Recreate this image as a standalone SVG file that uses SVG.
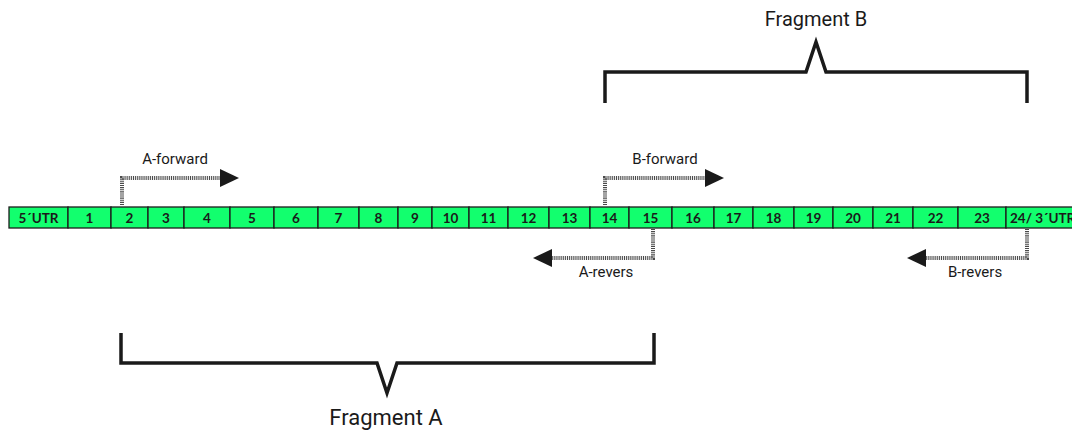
<svg xmlns="http://www.w3.org/2000/svg" width="1072" height="433" viewBox="0 0 1072 433">
  <defs>
    <style>
      .cell { fill: #12ff6e; stroke: #1c1c1c; stroke-width: 1.3; }
      .cell-label { font-family: Lato, "Open Sans", sans-serif; font-weight: bold; font-size: 13.5px; fill: #1a1a1a; text-anchor: middle; }
      .primer { fill: none; stroke: #4a4a4a; stroke-width: 4; stroke-dasharray: 1 0.9; }
      .primer-label { font-family: Roboto, "Noto Sans", sans-serif; font-size: 15px; fill: #1a1a1a; text-anchor: middle; }
      .bracket { fill: none; stroke: #1a1a1a; stroke-width: 3.5; stroke-linejoin: miter; }
      .fragment-label { font-family: Roboto, "Noto Sans", sans-serif; fill: #1a1a1a; text-anchor: middle; }
      .head { fill: #1a1a1a; }
    </style>
  </defs>

  <rect width="1072" height="433" fill="#ffffff"/>

  <!-- exon strip -->
  <g id="exons">
    <g id="exon-5utr"><rect class="cell" x="9" y="207" width="59" height="21"/><text class="cell-label" x="38.5" y="222.5">5´UTR</text></g>
    <g id="exon-1"><rect class="cell" x="68" y="207" width="43" height="21"/><text class="cell-label" x="89.5" y="222.5">1</text></g>
    <g id="exon-2"><rect class="cell" x="111" y="207" width="37" height="21"/><text class="cell-label" x="129.5" y="222.5">2</text></g>
    <g id="exon-3"><rect class="cell" x="148" y="207" width="36" height="21"/><text class="cell-label" x="166" y="222.5">3</text></g>
    <g id="exon-4"><rect class="cell" x="184" y="207" width="46" height="21"/><text class="cell-label" x="207" y="222.5">4</text></g>
    <g id="exon-5"><rect class="cell" x="230" y="207" width="44" height="21"/><text class="cell-label" x="252" y="222.5">5</text></g>
    <g id="exon-6"><rect class="cell" x="274" y="207" width="44" height="21"/><text class="cell-label" x="296" y="222.5">6</text></g>
    <g id="exon-7"><rect class="cell" x="318" y="207" width="41" height="21"/><text class="cell-label" x="338.5" y="222.5">7</text></g>
    <g id="exon-8"><rect class="cell" x="359" y="207" width="39" height="21"/><text class="cell-label" x="378.5" y="222.5">8</text></g>
    <g id="exon-9"><rect class="cell" x="398" y="207" width="34" height="21"/><text class="cell-label" x="415" y="222.5">9</text></g>
    <g id="exon-10"><rect class="cell" x="432" y="207" width="37" height="21"/><text class="cell-label" x="450.5" y="222.5">10</text></g>
    <g id="exon-11"><rect class="cell" x="469" y="207" width="39" height="21"/><text class="cell-label" x="488.5" y="222.5">11</text></g>
    <g id="exon-12"><rect class="cell" x="508" y="207" width="41" height="21"/><text class="cell-label" x="528.5" y="222.5">12</text></g>
    <g id="exon-13"><rect class="cell" x="549" y="207" width="41" height="21"/><text class="cell-label" x="569.5" y="222.5">13</text></g>
    <g id="exon-14"><rect class="cell" x="590" y="207" width="39" height="21"/><text class="cell-label" x="609.5" y="222.5">14</text></g>
    <g id="exon-15"><rect class="cell" x="629" y="207" width="43" height="21"/><text class="cell-label" x="650.5" y="222.5">15</text></g>
    <g id="exon-16"><rect class="cell" x="672" y="207" width="42" height="21"/><text class="cell-label" x="693" y="222.5">16</text></g>
    <g id="exon-17"><rect class="cell" x="714" y="207" width="39" height="21"/><text class="cell-label" x="733.5" y="222.5">17</text></g>
    <g id="exon-18"><rect class="cell" x="753" y="207" width="41" height="21"/><text class="cell-label" x="773.5" y="222.5">18</text></g>
    <g id="exon-19"><rect class="cell" x="794" y="207" width="39" height="21"/><text class="cell-label" x="813.5" y="222.5">19</text></g>
    <g id="exon-20"><rect class="cell" x="833" y="207" width="40" height="21"/><text class="cell-label" x="853" y="222.5">20</text></g>
    <g id="exon-21"><rect class="cell" x="873" y="207" width="40" height="21"/><text class="cell-label" x="893" y="222.5">21</text></g>
    <g id="exon-22"><rect class="cell" x="913" y="207" width="45" height="21"/><text class="cell-label" x="935.5" y="222.5">22</text></g>
    <g id="exon-23"><rect class="cell" x="958" y="207" width="48" height="21"/><text class="cell-label" x="982" y="222.5">23</text></g>
    <g id="exon-24-3utr"><rect class="cell" x="1006" y="207" width="80" height="21"/><text class="cell-label" x="1010" y="222.5" style="text-anchor:start">24/ 3´UTR</text></g>
  </g>

  <!-- primers -->
  <g id="connectors">
    <g id="a-forward">
      <path class="primer" d="M122 205 V178 H222"/>
      <polygon class="head" points="220,169 239,178 220,187"/>
      <text class="primer-label" x="175" y="164">A-forward</text>
    </g>
    <g id="a-revers">
      <path class="primer" d="M653 229 V258 H550"/>
      <polygon class="head" points="552,249 533,258 552,267"/>
      <text class="primer-label" x="606" y="277">A-revers</text>
    </g>
    <g id="b-forward">
      <path class="primer" d="M605 205 V178 H707"/>
      <polygon class="head" points="705,169 724,178 705,187"/>
      <text class="primer-label" x="665" y="164">B-forward</text>
    </g>
    <g id="b-revers">
      <path class="primer" d="M1027 229 V258 H924"/>
      <polygon class="head" points="926,249 907,258 926,267"/>
      <text class="primer-label" x="975" y="277">B-revers</text>
    </g>
  </g>

  <!-- fragment brackets -->
  <g id="fragment-b">
    <path class="bracket" d="M605 103 V72 H806 L816 42 L826 72 H1027 V103"/>
    <text class="fragment-label" x="816" y="26" font-size="20">Fragment B</text>
  </g>
  <g id="fragment-a">
    <path class="bracket" d="M121 333 V363 H377 L387 393 L397 363 H654 V333"/>
    <text class="fragment-label" x="386" y="425" font-size="22">Fragment A</text>
  </g>
</svg>
